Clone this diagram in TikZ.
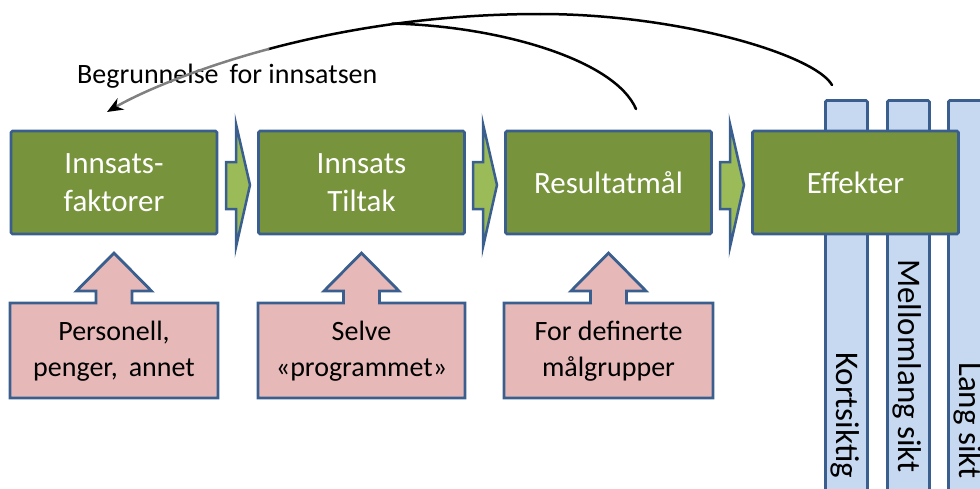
\documentclass[tikz,border=0pt]{standalone}
\usepackage{fontspec}
\setmainfont{Carlito}
\usetikzlibrary{arrows.meta}
\definecolor{grn}{HTML}{77933C}
\definecolor{bord}{HTML}{3A5F8E}
\definecolor{chev}{HTML}{9BBB59}
\definecolor{pink}{HTML}{E6B9B8}
\definecolor{colb}{HTML}{C6D9F1}
\begin{document}
\begin{tikzpicture}[x=1pt,y=-1pt,
  gbox/.style={draw=bord, line width=2.8pt, fill=grn, rounded corners=1.5pt,
    minimum width=206pt, minimum height=103pt, align=center, text=white,
    font=\fontsize{31}{38}\selectfont, inner sep=0pt},
  colbox/.style={draw=bord, line width=2.8pt, fill=colb, rounded corners=1.5pt,
    minimum width=42pt, minimum height=430pt, anchor=north west, inner sep=0pt},
  coltext/.style={rotate=-90, anchor=west, font=\fontsize{33}{38}\selectfont, inner sep=0pt},
  ptext/.style={align=center, font=\fontsize{28}{36}\selectfont, inner sep=0pt},
  chevshape/.style={draw=bord, line width=2.5pt, fill=chev, line join=miter},
  callshape/.style={draw=bord, line width=2.8pt, fill=pink, line join=miter},
  curve/.style={line width=2.5pt, line cap=round}
]
\useasboundingbox (0,0) rectangle (980,488);
\clip (0,0) rectangle (980,488);

% columns
\node[colbox] (c1) at (824,99) {};
\node[colbox] (c2) at (886,99) {};
\node[colbox] (c3) at (947,99) {};
\node[coltext] (k1) at (845,352) {Kortsiktig};
\node[coltext] (k2) at (907,259) {Mellomlang sikt};
\node[coltext] (k3) at (968,362) {Lang sikt};

% green boxes
\node[gbox] (b1) at (114,182.5) {Innsats-\\faktorer};
\node[gbox] (b2) at (361.5,182.5) {Innsats\\Tiltak};
\node[gbox] (b3) at (608.5,182.5) {Resultatmål};
\node[gbox] (b4) at (855.5,182.5) {Effekter};

% chevrons
\foreach \ax in {226,473,720}{
  \draw[chevshape] (\ax,162) -- (\ax+10,162) -- (\ax+10,124) -- (\ax+24,185)
     -- (\ax+10,247) -- (\ax+10,209) -- (\ax,209) -- cycle;
}

% callouts
\foreach \cx/\lx/\rx in {114/10/218, 361.5/258/465, 608.5/504/713}{
  \draw[callshape] (\lx,303) -- (\cx-18,303) -- (\cx-18,291) -- (\cx-37.5,291)
     -- (\cx,253) -- (\cx+37.5,291) -- (\cx+18,291) -- (\cx+18,303)
     -- (\rx,303) -- (\rx,398) -- (\lx,398) -- cycle;
}
\node[ptext] (p1) at (114,351) {Personell,\\penger,\, annet};
\node[ptext] (p2) at (361.5,351) {Selve\\«programmet»};
\node[ptext] (p3) at (608.5,351) {For definerte\\målgrupper};

% label
\node[anchor=base west, font=\fontsize{28}{32}\selectfont, inner sep=0pt] (lab) at (77,83) {Begrunnelse\, for innsatsen};

% curves
\coordinate (s1) at (832,85);
\coordinate (s2) at (636,109);
\coordinate (top) at (540,14);
\coordinate (mid) at (268.4,49.1);
\coordinate (merge) at (392,23.5);
\coordinate (tipA) at (107,112);
\draw[curve] (s1) .. controls (815,55) and (680,14) .. (top);
\draw[curve] (top) .. controls (435,14) and (342.5,29.25) .. (mid);
\draw[curve, black!50, -{Stealth[length=16pt,width=13pt,color=black]}] (mid) .. controls (194.25,69) and (138.5,93.5) .. (tipA);
\draw[curve] (s2) .. controls (615,60) and (500,26) .. (merge);
\end{tikzpicture}
\end{document}
